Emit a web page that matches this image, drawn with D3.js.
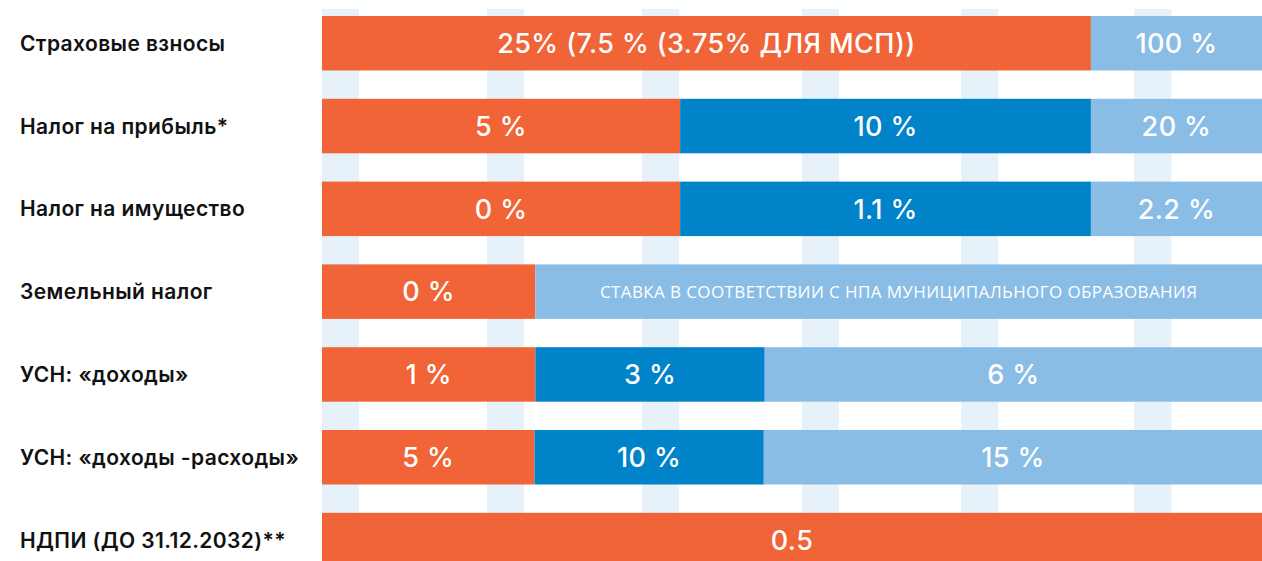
<!DOCTYPE html>
<html lang="ru">
<head>
<meta charset="UTF-8">
<title>Налоговые ставки</title>
<script src="https://d3js.org/d3.v7.min.js"></script>
<style>
  html, body { margin: 0; padding: 0; background: #fff; }
  svg { display: block; }
  .row-label { font-family: Inter, "Noto Sans", sans-serif; font-weight: 600; fill: #111; letter-spacing: 0.4px; }
  .bar-label { font-family: Inter, "Noto Sans", sans-serif; font-weight: 500; fill: #fff; letter-spacing: 0.4px; }
  .bar-note { font-family: "Open Sans", "Noto Sans", sans-serif; font-weight: 400; fill: #fff; letter-spacing: 0.4px; }
</style>
</head>
<body>
<script>
// rows of the chart
const categories = [
  "Страховые взносы",
  "Налог на прибыль*",
  "Налог на имущество",
  "Земельный налог",
  "УСН: «доходы»",
  "УСН: «доходы -расходы»",
  "НДПИ (ДО 31.12.2032)**"
];

// segment ends along the bar (0..100 = full bar length)
const orangeEnd = [81.8, 38.1, 38.1, 22.7, 22.7, 22.6, 100];
const blueEnd   = [null, 81.8, 81.8, null, 47.1, 47.0, null];

// segment texts
const orangeLabels = ["25% (7.5 % (3.75% ДЛЯ МСП))", "5 %", "0 %", "0 %", "1 %", "5 %", "0.5"];
const blueLabels   = [null, "10 %", "1.1 %", null, "3 %", "10 %", null];
const lightLabels  = ["100 %", "20 %", "2.2 %", "СТАВКА В СООТВЕТСТВИИ С НПА МУНИЦИПАЛЬНОГО ОБРАЗОВАНИЯ", "6 %", "15 %", null];

// background stripes (left edge, same units as bars)
const stripeStarts = [0, 17.55, 34.05, 51.05, 68.0, 86.4];
const stripeWidth = 3.95;

const width = 1262, height = 561;
const colors = { orange: "#f06437", blue: "#0083c8", light: "#89bde6", stripe: "#e7f1fa" };

const svg = d3.select("body").append("svg")
  .attr("width", width)
  .attr("height", height);

const x = d3.scaleLinear().domain([0, 100]).range([322, 1262]);
const y = d3.scaleBand()
  .domain(categories)
  .range([16, 567.3])
  .paddingInner(0.342)
  .paddingOuter(0);

// stripes behind the bars
svg.append("g").selectAll("rect")
  .data(stripeStarts)
  .join("rect")
  .attr("x", d => x(d))
  .attr("width", x(stripeWidth) - x(0))
  .attr("y", 9)
  .attr("height", y(categories[6]) - 9)
  .attr("fill", colors.stripe);

// build segments from the arrays
const segments = [];
categories.forEach((c, i) => {
  const oEnd = orangeEnd[i];
  segments.push({ cat: c, x0: 0, x1: oEnd, color: colors.orange, label: orangeLabels[i] });
  let start = oEnd;
  if (blueEnd[i] != null) {
    segments.push({ cat: c, x0: oEnd, x1: blueEnd[i], color: colors.blue, label: blueLabels[i] });
    start = blueEnd[i];
  }
  if (start < 100) {
    segments.push({ cat: c, x0: start, x1: 100, color: colors.light, label: lightLabels[i] });
  }
});

const bars = svg.append("g");
bars.selectAll("rect")
  .data(segments)
  .join("rect")
  .attr("x", d => x(d.x0))
  .attr("width", d => x(d.x1) - x(d.x0))
  .attr("y", d => y(d.cat))
  .attr("height", y.bandwidth())
  .attr("fill", d => d.color);

bars.selectAll("text")
  .data(segments.filter(d => d.label))
  .join("text")
  .attr("class", d => d.label.length > 30 ? "bar-note" : "bar-label")
  .attr("x", d => (x(d.x0) + x(d.x1)) / 2)
  .attr("y", d => y(d.cat) + y.bandwidth() / 2)
  .attr("dy", "0.36em")
  .attr("text-anchor", "middle")
  .style("font-size", d => d.label.length > 30 ? "17px" : "27px")
  .text(d => d.label);

// row labels on the left
svg.append("g").selectAll("text")
  .data(categories)
  .join("text")
  .attr("class", "row-label")
  .attr("x", 20)
  .attr("y", d => y(d) + y.bandwidth() / 2)
  .attr("dy", "0.36em")
  .style("font-size", "21px")
  .text(d => d);
</script>
</body>
</html>
